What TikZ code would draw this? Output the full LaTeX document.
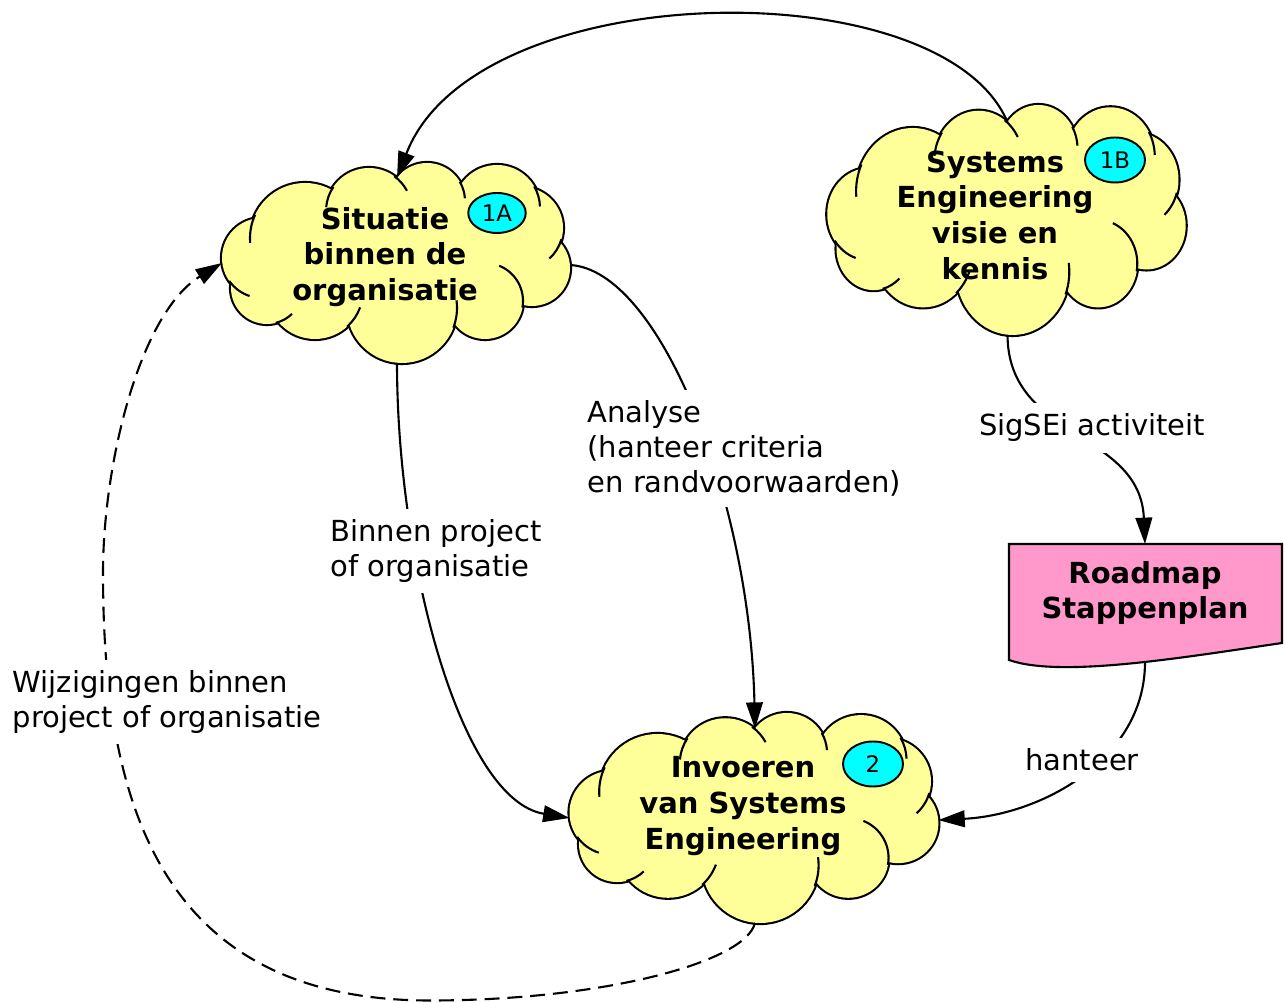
\documentclass[tikz,border=0pt]{standalone}
\usepackage{fontspec}
\setmainfont{DejaVu Sans}
\usetikzlibrary{arrows.meta,shapes.geometric}
\definecolor{cloudyellow}{RGB}{255,255,153}
\definecolor{badgecyan}{RGB}{0,255,255}
\definecolor{roadpink}{RGB}{255,153,204}
\tikzset{
  cloudpic/.pic={
    \foreach \cx/\cy/\rr in {-135/5/40,-92/25/55,-28/52/43,30/62/38,100/55/43,125/35/41,135/-5/38,88/-38/38,5/-45/55,-82/-28/48,-130/-25/36}
      \draw[line width=2.4pt,fill=cloudyellow] (\cx,\cy) circle[radius=\rr];
    \foreach \cx/\cy/\rr in {-135/5/40,-92/25/55,-28/52/43,30/62/38,100/55/43,125/35/41,135/-5/38,88/-38/38,5/-45/55,-82/-28/48,-130/-25/36}
      \fill[cloudyellow] (\cx,\cy) circle[radius=\rr];
    \fill[cloudyellow] (0,0) ellipse[x radius=120,y radius=50];
    \foreach \cx/\cy/\rr/\aa/\bb in {-28/52/43/54/28,30/62/38/30/4,100/55/43/30/2,125/35/41/-16/-48,88/-38/38/-10/68,5/-45/55/-21/8,-82/-28/48/-48/-20,-130/-25/36/-76/-46,-135/5/40/215/252,-92/25/55/155/185,-28/52/43/146/175}
      \draw[line width=1.2pt] (\cx,\cy) ++(\aa:\rr) arc[start angle=\aa,end angle=\bb,radius=\rr];
    \coordinate (-n) at (0,85);
    \coordinate (-s) at (0,-100);
    \coordinate (-e) at (173,-2);
    \coordinate (-w) at (-175,0);
  }
}
\begin{document}
\begin{tikzpicture}[x=0.02cm,y=0.02cm,
  conn/.style={line width=1.2pt,-{Triangle[length=15pt,width=9.5pt]}},
  dashconn/.style={conn,dash pattern=on 8.5pt off 4.5pt},
  ctext/.style={font=\fontsize{16.5}{20.3}\selectfont\bfseries,align=center,inner sep=0pt},
  lbl/.style={font=\fontsize{16.5}{19.8}\selectfont,align=left,fill=white,inner xsep=3pt,inner ysep=6pt,anchor=west},
  badge/.style={ellipse,draw,line width=1.1pt,fill=badgecyan,inner sep=0pt,font=\fontsize{13}{15}\selectfont},
  docbox/.style={line width=1.2pt,fill=roadpink}
]
\fill[white] (0,0) rectangle (1284,1003);
\useasboundingbox (0,0) rectangle (1284,1003);

% clouds
\pic (sa) at (397,740) {cloudpic};
\pic[xscale=1.03,yscale=1.15] (sb) at (1007.5,783) {cloudpic};
\pic[xscale=1.06,yscale=1.05] (sc) at (755,185) {cloudpic};

% document shape
\draw[docbox] (1009,459) -- (1282,459) -- (1282,360) .. controls (1180,345) and (1060,325) .. (1009,343) -- cycle;
\coordinate (road-n) at (1145,459);
\coordinate (road-s) at (1145,341);

% texts in shapes
\node[ctext] (sit) at (385,746) {Situatie\\binnen de\\organisatie};
\node[ctext] (sev) at (995,788) {Systems\\Engineering\\visie en\\kennis};
\node[ctext] (inv) at (743,197) {Invoeren\\van Systems\\Engineering};
\node[ctext] (road) at (1145,410) {Roadmap\\Stappenplan};

% badges
\node[badge,minimum width=1.15cm,minimum height=0.8cm] (b1a) at (497,790) {1A};
\node[badge,minimum width=1.2cm,minimum height=0.9cm] (b1b) at (1115,843) {1B};
\node[badge,minimum width=1.2cm,minimum height=0.9cm] (b2) at (873,239) {2};

% connectors
\draw[conn] (sb-n) .. controls (943,1035) and (475,1028) .. (sa-n);
\draw[conn] (sa-s) .. controls (397,443) and (460,203) .. (sc-w);
\draw[conn] (sa-e) .. controls (660,733) and (750,503) .. (sc-n);
\draw[conn] (sb-s) .. controls (1008,563) and (1140,573) .. (road-n);
\draw[conn] (road-s) .. controls (1145,243) and (1040,188) .. (sc-e);
\draw[dashconn] (sc-s) .. controls (745,40) and (600,2.5) .. (430,2.5)
  .. controls (160,2.5) and (103,200) .. (103,430)
  .. controls (103,540) and (140,690) .. (sa-w);

% labels
\node[lbl] (lana) at (582,554.5) {Analyse\\(hanteer criteria\\en randvoorwaarden)};
\node[lbl] (lbin) at (325,452) {Binnen project\\of organisatie};
\node[lbl,anchor=center] (lsig) at (1092,575) {SigSEi activiteit};
\node[lbl,anchor=center] (lhan) at (1082,243) {hanteer};
\node[lbl] (lwij) at (7,301) {Wijzigingen binnen\\project of organisatie};
\end{tikzpicture}
\end{document}
